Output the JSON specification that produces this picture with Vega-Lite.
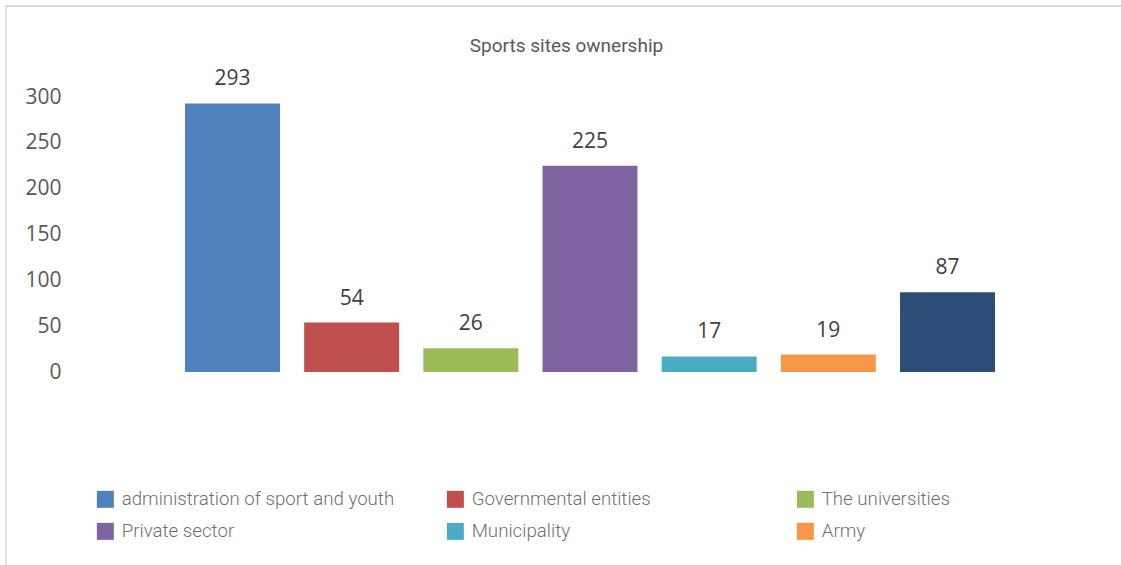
{
  "$schema": "https://vega.github.io/schema/vega-lite/v6.json",
  "autosize": "none",
  "padding": {"left": 5.5, "top": 6, "right": 0, "bottom": 0},
  "width": 1115.5,
  "height": 559,
  "background": "white",
  "config": {"view": {"stroke": null}},
  "data": {"values": [
    {"owner": "administration of sport and youth", "sites": 293},
    {"owner": "Governmental entities", "sites": 54},
    {"owner": "The universities", "sites": 26},
    {"owner": "Private sector", "sites": 225},
    {"owner": "Municipality", "sites": 17},
    {"owner": "Army", "sites": 19},
    {"owner": "Other", "sites": 87}
  ]},
  "encoding": {
    "x": {
      "field": "owner", "type": "nominal", "sort": null,
      "scale": {"range": [179.5, 989.5], "paddingInner": 0.203, "paddingOuter": 0},
      "axis": {
        "orient": "top", "labels": false, "ticks": false, "domain": false,
        "title": "Sports sites ownership", "titleX": 560.5, "titleY": 45,
        "titleAlign": "center", "titleBaseline": "alphabetic", "titleAnchor": "middle",
        "titleFont": "Roboto", "titleFontSize": 19, "titleFontWeight": "normal", "titleColor": "#595959"
      }
    },
    "y": {
      "field": "sites", "type": "quantitative",
      "scale": {"domain": [-210.5, 399.3], "nice": false, "zero": false},
      "axis": {
        "values": [0, 50, 100, 150, 200, 250, 300],
        "grid": false, "ticks": false, "tickSize": 0,
        "labelPadding": -55.5, "labelAlign": "right", "labelBaseline": "middle",
        "labelFont": "Open Sans", "labelFontSize": 21, "labelColor": "#595959",
        "labelOverlap": false, "labelFlush": false,
        "domainColor": "#d9d9d9", "domainWidth": 1.5, "title": null
      }
    }
  },
  "layer": [
    {
      "mark": {"type": "rule", "color": "#d9d9d9", "strokeWidth": 1.5},
      "encoding": {"y": {"datum": 399.3}, "x": null}
    },
    {
      "mark": {"type": "bar"},
      "encoding": {
        "y2": {"datum": 0},
        "color": {
          "field": "owner", "type": "nominal", "sort": null,
          "scale": {
            "domain": ["administration of sport and youth", "Governmental entities", "The universities", "Private sector", "Municipality", "Army", "Other"],
            "range": ["#4f81bd", "#c0504d", "#9bbb59", "#8064a2", "#4bacc6", "#f79646", "#2c4d75"]
          },
          "legend": {
            "orient": "none", "legendX": 90.5, "legendY": 483.5, "direction": "horizontal",
            "columns": 3, "gridAlign": "all", "columnPadding": 51, "rowPadding": 12.5, "padding": 0,
            "values": ["administration of sport and youth", "Governmental entities", "The universities", "Private sector", "Municipality", "Army"],
            "title": null,
            "symbolType": "square", "symbolSize": 289, "symbolStrokeWidth": 0, "symbolOpacity": 1,
            "labelFont": "Roboto", "labelFontSize": 18.7, "labelFontWeight": 300, "labelColor": "#707070",
            "labelOffset": 7, "labelLimit": 400
          }
        }
      }
    },
    {
      "mark": {"type": "text", "dy": -18, "baseline": "alphabetic", "font": "Open Sans", "fontSize": 21, "color": "#404040"},
      "encoding": {"text": {"field": "sites", "type": "quantitative"}}
    }
  ]
}
